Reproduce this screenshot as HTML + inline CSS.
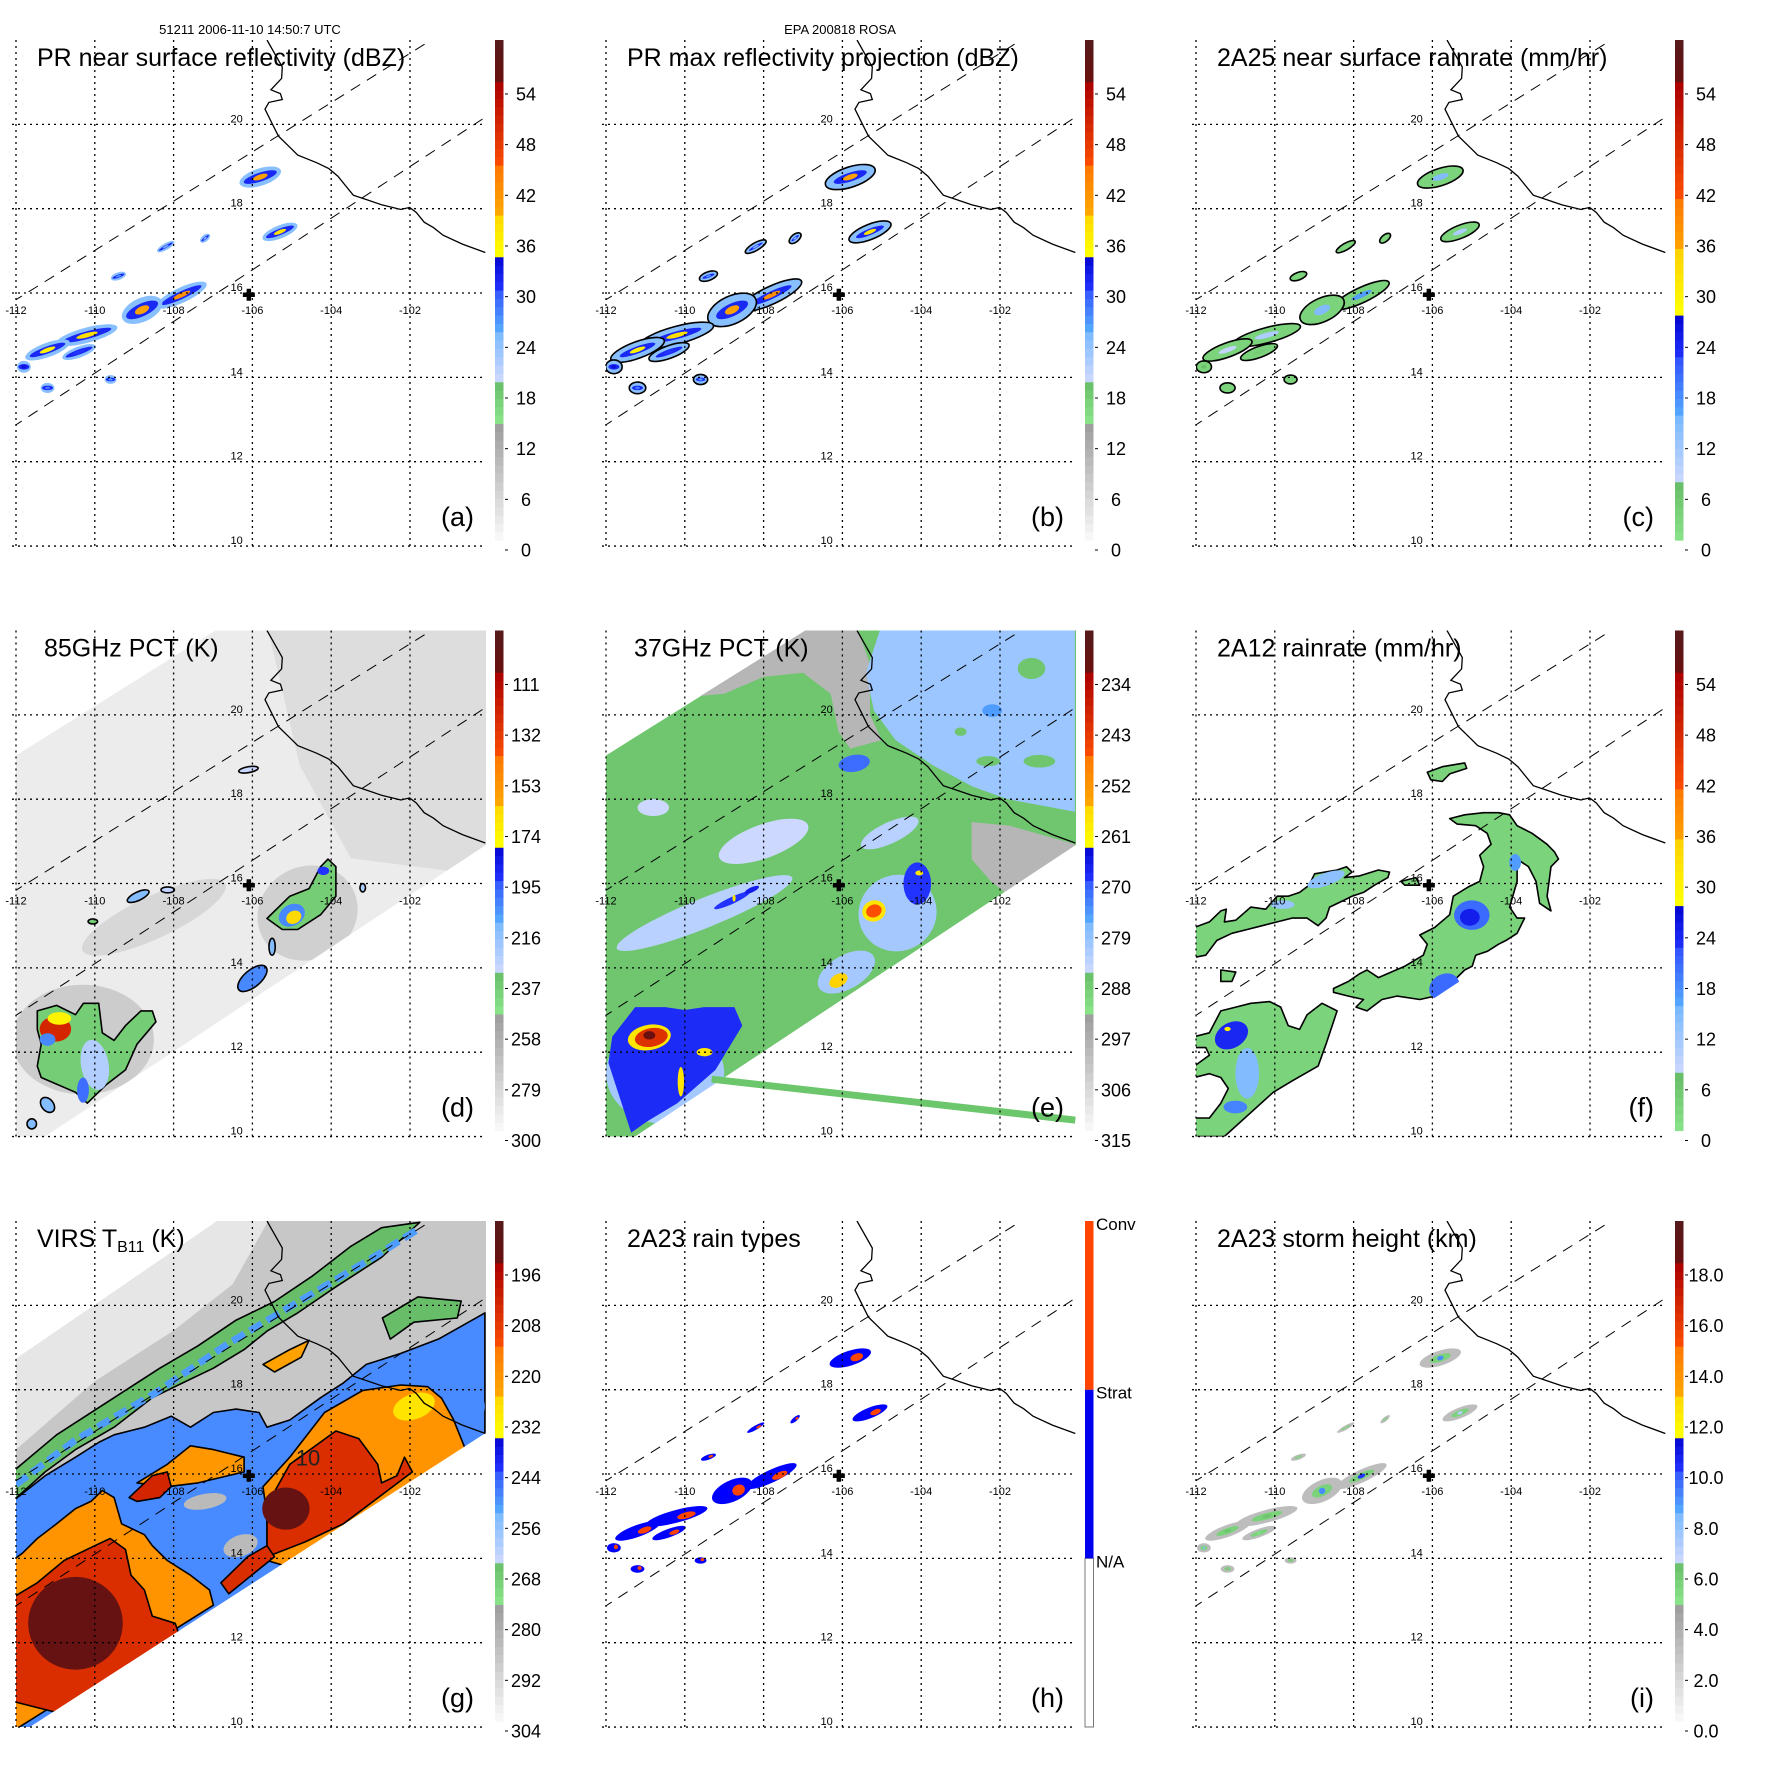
<!DOCTYPE html>
<html><head><meta charset="utf-8"><style>
html,body{margin:0;padding:0;background:#fff;}
svg{display:block;font-family:"Liberation Sans",sans-serif;}
</style></head><body>
<svg id="chart" xmlns="http://www.w3.org/2000/svg" width="1771" height="1771" viewBox="0 0 1771 1771"></svg>
<script>
// ---------- axis ticks / labels ----------
const LAT_TICKS = [10, 12, 14, 16, 18, 20];
const LON_TICKS = [-112, -110, -108, -106, -104, -102];
const PANEL_TITLES = ['PR near surface reflectivity (dBZ)','PR max reflectivity projection (dBZ)','2A25 near surface rainrate (mm/hr)','85GHz PCT (K)','37GHz PCT (K)','2A12 rainrate (mm/hr)','VIRS T','2A23 rain types','2A23 storm height (km)'];
const PANEL_LETTERS = ['(a)','(b)','(c)','(d)','(e)','(f)','(g)','(h)','(i)'];
const CB_LABELS_A = ['0','6','12','18','24','30','36','42','48','54'];
const CB_LABELS_D = ['300','279','258','237','216','195','174','153','132','111'];
const CB_LABELS_E = ['315','306','297','288','279','270','261','252','243','234'];
const CB_LABELS_G = ['304','292','280','268','256','244','232','220','208','196'];
const CB_LABELS_I = ['0.0','2.0','4.0','6.0','8.0','10.0','12.0','14.0','16.0','18.0'];
const CB_LABELS_H = ['N/A','Strat','Conv'];
const CB_VMIN = [0,0,0,300,315,0,304,0,0];
const CB_SPAN = [60,60,60,-210,-90,60,-120,3,20];
const HEADER_LEFT = '51211 2006-11-10 14:50:7 UTC';
const HEADER_MID = 'EPA 200818 ROSA';

// ---------- geography ----------
const COAST_LON = [-105.63,-105.24,-105.26,-105.53,-105.29,-105.24,-105.58,-105.68,-105.51,-105.34,-105.0,-104.85,-104.37,-104.06,-103.83,-103.64,-103.44,-103.15,-102.71,-102.23,-102.01,-101.84,-101.64,-101.40,-101.16,-100.67,-100.09];
const COAST_LAT = [22.0,21.36,21.09,20.82,20.73,20.59,20.52,20.36,20.04,19.72,19.41,19.27,19.09,18.95,18.77,18.55,18.32,18.23,18.09,17.98,18.03,17.91,17.68,17.55,17.37,17.16,16.96];
const SWATH_UP_LON = [-112.09,-101.46], SWATH_UP_LAT = [15.79,22.0];
const SWATH_LO_LON = [-112.09,-100.09], SWATH_LO_LAT = [12.82,20.17];
const SITE_LON = -106.09, SITE_LAT = 15.96;
const TMI_LON = [-112.1,-106.94,-100,-100,-111.26,-112.1], TMI_LAT = [18.98,22,22,16.96,10,10];
const VIRS_LON = [-112.1,-106.89,-100,-100,-111.65,-112.1], VIRS_LAT = [18.67,22,22,17.02,10,10];
const ARTIFACT_LON = [-109.32,-100.09], ARTIFACT_LAT = [11.36,10.39];

// ---------- PR echo cells (a,b,c,h,i) ----------
const CELL_LON = [-105.8,-105.3,-107.8,-108.8,-110.2,-111.2,-111.8,-111.2,-109.4,-110.4,-108.2,-109.6,-107.2];
const CELL_LAT = [18.75,17.45,15.95,15.6,15.0,14.65,14.25,13.75,16.4,14.6,17.1,13.95,17.3];
const CELL_LEN = [1.1,0.95,1.4,1.1,1.6,1.2,0.35,0.35,0.4,0.9,0.5,0.3,0.3];
const CELL_WID = [0.35,0.25,0.3,0.5,0.3,0.28,0.22,0.18,0.12,0.2,0.1,0.15,0.1];
const CELL_ANG = [-18,-22,-25,-25,-15,-20,0,0,-20,-20,-30,0,-40];
const CELL_DBZ = [40,38,42,40,38,36,33,28,26,30,24,26,24];
const CELL_HGT = [9,7,10,9,6,6,8,4,3,5,3,4,3];
const CELL_RAIN = [14,10,16,14,10,8,6,3,2,4,2,3,2];

// ---------- 85 GHz (d) ----------
const D_DARK_LON = [-105.6,-100,-100,-101,-103.5,-104.8], D_DARK_LAT = [22,22,16.9,16.3,16.6,18.8];
const D_S1_LON = [-111.46,-110.97,-110.49,-110.29,-109.9,-109.81,-109.51,-109.22,-108.83,-108.54,-108.45,-108.93,-109.22,-109.71,-110.19,-110.49,-111.36,-111.46,-111.36,-111.46];
const D_S1_LAT = [12.98,13.11,12.89,13.16,13.16,12.46,12.28,12.63,12.98,12.98,12.72,12.19,11.58,11.23,10.79,11.05,11.4,11.67,12.19,12.54];
const D_S2_LON = [-105.63,-105.05,-104.56,-104.27,-104.08,-103.88,-103.88,-104.27,-104.85,-105.24];
const D_S2_LAT = [15.17,15.70,15.88,16.4,16.58,16.4,15.70,15.26,14.91,14.91];
const D_B_LON = [-110.3,-104.6,-108.5,-111.0,-110.9,-111.2,-110.0,-110.3,-105.0,-104.95,-104.2,-106.0,-106.1,-108.9,-108.15,-110.05,-111.2,-111.6,-105.5,-103.2];
const D_B_LAT = [12.3,15.3,15.2,12.55,12.8,12.3,11.7,11.1,15.25,15.2,16.3,13.75,18.7,15.7,15.85,15.1,10.75,10.3,14.5,15.9];
const D_B_RX = [1.8,1.3,2.0,0.4,0.3,0.2,0.35,0.15,0.35,0.2,0.15,0.45,0.25,0.3,0.17,0.12,0.15,0.12,0.08,0.07];
const D_B_RY = [1.3,1.1,0.5,0.3,0.15,0.15,0.6,0.3,0.25,0.15,0.1,0.2,0.07,0.1,0.07,0.06,0.2,0.12,0.2,0.1];
const D_B_ANG = [0,-30,-25,0,0,0,-10,0,-30,-30,0,-40,-10,-25,0,0,-40,0,0,0];
const D_B_VAL = [276,278,282,125,175,205,226,200,205,165,195,205,232,215,230,240,215,215,215,225];

// ---------- 37 GHz (e) ----------
const E_GRAY1_LON = [-109.6,-106.94,-105.6,-105.3,-105.3,-105.0,-105.8,-106.1,-106.3,-107.0,-108.0,-109.0];
const E_GRAY1_LAT = [20.45,22,22,21.2,20.0,19.4,19.2,19.6,20.5,21.0,20.9,20.5];
const E_GRAY2_LON = [-102.72,-101.75,-100.1,-100.1,-101.75,-102.23,-102.72];
const E_GRAY2_LAT = [17.46,17.37,16.93,16.75,15.70,16.05,16.58];
const E_OCEAN_LON = [-105.05,-105.4,-105.2,-104.65,-103.7,-102.7,-101.8,-100.1,-100.1];
const E_OCEAN_LAT = [22,21.0,20.1,19.4,18.8,18.3,18.0,17.7,22];
const E_S1_LON = [-111.84,-111.26,-110.49,-110.0,-109.51,-108.74,-108.54,-109.22,-110.19,-110.97,-111.36,-111.94];
const E_S1_LAT = [12.37,13.07,13.07,13.0,13.07,13.07,12.63,11.58,10.79,10.35,10.09,11.75];
const E_B_LON = [-101.2,-102.3,-101.0,-103.0,-102.2,-109.5,-108.0,-110.8,-104.8,-105.7,-110.5,-104.6,-105.9,-108.8,-108.3,-104.1,-104.05,-110.9,-110.85,-110.9,-109.5,-110.1,-105.2,-105.2,-106.1,-108.75];
const E_B_LAT = [21.1,18.9,18.9,19.6,20.1,15.3,17.0,17.8,17.2,18.85,11.5,15.3,13.9,15.6,15.85,16.0,16.25,12.35,12.35,12.4,12.0,11.3,15.35,15.35,13.7,15.65];
const E_B_RX = [0.35,0.3,0.4,0.15,0.25,2.4,1.2,0.4,0.8,0.4,1.5,1.0,0.8,0.5,0.2,0.35,0.1,0.55,0.42,0.15,0.2,0.08,0.3,0.2,0.25,0.04];
const E_B_RY = [0.25,0.12,0.15,0.1,0.15,0.35,0.4,0.2,0.25,0.2,1.2,0.9,0.4,0.08,0.06,0.5,0.06,0.3,0.22,0.1,0.1,0.35,0.25,0.15,0.15,0.08];
const E_B_ANG = [0,0,0,0,0,-22,-20,0,-25,-10,0,-30,-30,-25,-25,0,0,-10,-10,0,0,0,-20,-20,-30,0];
const E_B_VAL = [288,288,288,288,276,284,286,286,284,272,282,282,282,270,267,270,259,259,242,232,259,259,259,248,256,259];

// ---------- 2A12 (f) ----------
const F1_LON = [-112.04,-111.66,-111.37,-111.23,-111.28,-110.99,-110.61,-110.23,-109.94,-109.66,-109.37,-109.13,-108.99,-108.42,-108.18,-108.04,-108.23,-107.85,-107.37,-107.09,-107.13,-107.47,-107.75,-108.04,-108.23,-108.61,-108.70,-108.90,-109.18,-109.56,-109.94,-110.32,-110.70,-111.09,-111.47,-111.75,-112.04];
const F1_LAT = [14.96,15.09,15.35,15.39,15.09,15.13,15.44,15.39,15.70,15.70,15.79,15.96,16.23,16.32,16.40,16.27,16.14,16.18,16.32,16.27,16.14,15.96,15.79,15.70,15.61,15.44,15.18,15.0,15.18,15.18,15.09,15.0,14.91,14.82,14.65,14.30,14.25];
const F2_LON = [-108.51,-108.13,-107.85,-107.66,-107.37,-106.70,-106.23,-106.13,-106.32,-105.94,-105.56,-105.47,-105.09,-104.80,-104.70,-104.80,-104.51,-104.61,-104.90,-105.37,-105.56,-105.18,-104.70,-104.32,-104.04,-103.85,-103.47,-103.09,-102.90,-102.80,-102.99,-103.09,-102.99,-103.28,-103.37,-103.56,-103.85,-103.85,-104.04,-103.85,-103.66,-103.85,-104.13,-104.32,-104.61,-104.90,-104.99,-105.18,-105.56,-105.94,-106.32,-106.90,-107.28,-107.66,-107.94,-107.75,-108.13,-108.51];
const F2_LAT = [13.51,13.68,13.86,13.95,13.77,14.04,14.30,14.56,14.78,14.96,15.26,15.70,15.92,16.05,16.40,16.67,16.93,17.19,17.37,17.41,17.54,17.63,17.68,17.68,17.63,17.37,17.19,16.93,16.75,16.58,16.40,15.70,15.35,15.53,16.05,16.40,16.58,16.05,15.44,15.18,15.18,14.82,14.65,14.56,14.39,14.30,14.04,13.95,13.60,13.33,13.25,13.33,13.25,12.98,13.07,13.25,13.33,13.42];
const F3_LON = [-112.04,-111.66,-111.37,-110.99,-110.61,-110.13,-109.85,-109.66,-109.37,-109.18,-108.80,-108.42,-108.70,-108.90,-109.56,-110.04,-111.28,-112.04,-112.04,-111.66,-111.37,-111.18,-111.37,-111.66,-112.04,-112.04,-111.66,-111.75,-112.04];
const F3_LAT = [12.37,12.46,12.98,13.07,13.16,13.20,13.07,12.63,12.54,12.89,13.16,12.98,12.19,11.67,11.32,11.05,10.0,10,10.44,10.44,10.79,11.14,11.40,11.49,11.40,11.67,11.93,12.11,12.11];
const F4_LON = [-106.13,-105.75,-105.18,-105.13,-105.56,-105.75,-106.04], F4_LAT = [18.64,18.77,18.86,18.73,18.60,18.42,18.46];
const F5_LON = [-106.80,-106.42,-106.32,-106.70], F5_LAT = [16.05,16.14,15.96,15.96];
const F6_LON = [-111.37,-110.99,-111.09,-111.37], F6_LAT = [13.95,13.90,13.68,13.68];
const F_B_LON = [-105.0,-105.05,-105.7,-111.1,-111.2,-110.7,-111.0,-103.9,-108.7,-109.8];
const F_B_LAT = [15.25,15.2,13.55,12.4,12.55,11.5,10.7,16.5,16.1,15.5];
const F_B_RX = [0.45,0.25,0.4,0.45,0.08,0.3,0.3,0.15,0.5,0.3];
const F_B_RY = [0.35,0.2,0.3,0.3,0.05,0.6,0.15,0.2,0.15,0.1];
const F_B_ANG = [0,0,-30,-30,0,0,0,0,-20,0];
const F_B_VAL = [20,24,20,23,30,14,18,16,13,12];

// ---------- VIRS (g) ----------
const G_LIGHT_LON = [-112.1,-106.89,-105.6,-106.5,-108,-110,-112.1], G_LIGHT_LAT = [18.67,22,22,20.5,19.4,18.2,16.5];
const G_BAND_LON = [-112.09,-110.97,-109.51,-108.35,-107.38,-106.41,-105.44,-104.47,-103.50,-102.72,-101.75,-102.72,-103.88,-104.85,-105.63,-106.21,-106.99,-107.77,-108.54,-109.51,-110.49,-111.26,-112.09];
const G_BAND_LAT = [16.05,16.93,17.81,18.51,19.04,19.65,20.09,20.70,21.40,21.84,21.97,21.14,20.44,19.82,19.39,18.95,18.51,18.16,17.81,17.11,16.58,16.05,15.35];
const G_BLUE_LON = [-112.09,-111.26,-110.49,-109.90,-109.51,-108.74,-108.06,-107.57,-106.99,-106.41,-105.83,-105.63,-105.05,-104.27,-103.69,-103.11,-102.23,-101.26,-100.1,-100.1,-112.1];
const G_BLUE_LAT = [15.35,15.96,16.40,16.75,16.93,17.11,17.37,17.11,17.46,17.54,17.46,17.11,17.28,17.81,18.16,18.60,18.86,19.21,19.82,9.0,9.0];
const G_O1_LON = [-112.09,-111.84,-111.46,-110.97,-110.49,-110.10,-109.81,-109.51,-109.32,-108.74,-108.54,-108.16,-107.57,-107.09,-106.99,-112.09];
const G_O1_LAT = [13.95,14.12,14.47,14.82,15.18,15.35,15.61,15.44,14.82,14.56,14.30,13.95,13.60,13.25,12.89,9.9];
const G_O2_LON = [-105.73,-105.05,-104.17,-103.20,-102.23,-101.55,-101.2,-100.9,-100.6,-102.0,-104.0,-105.63,-105.63];
const G_O2_LAT = [15.70,16.40,17.46,17.98,18.11,18.07,17.8,17.3,16.6,14.8,13.5,13.95,15.0];
const G_R1_LON = [-112.09,-111.46,-110.78,-110.0,-109.61,-109.22,-109.08,-108.74,-108.54,-107.96,-107.86,-109.51,-112.09];
const G_R1_LAT = [13.07,13.42,13.95,14.30,14.47,14.21,13.60,13.25,12.63,12.46,12.19,10,10.61];
const G_R2_LON = [-105.63,-105.05,-103.88,-103.30,-102.82,-102.72,-102.33,-102.14,-101.94,-103.69,-104.66,-105.63];
const G_R2_LAT = [15.26,16.23,17.02,16.84,16.23,15.79,15.96,16.40,16.05,14.82,14.39,14.04];
const G_R3_LON = [-109.13,-108.54,-108.16,-108.06,-108.35,-108.93], G_R3_LAT = [15.44,15.96,16.05,15.70,15.44,15.35];
const G_O3_LON = [-108.93,-108.16,-107.57,-106.99,-106.21,-106.21,-107.38,-108.16], G_O3_LAT = [15.79,16.23,16.67,16.58,16.40,16.05,15.79,15.70];
const G_O4_LON = [-105.73,-105.05,-104.56,-104.76,-105.44], G_O4_LAT = [18.60,18.95,19.17,18.77,18.42];
const G_R4_LON = [-106.80,-106.12,-105.63,-105.44,-106.60], G_R4_LAT = [13.42,14.04,14.30,14.04,13.16];
const G_GR_LON = [-102.7,-101.8,-100.7,-100.8,-101.9,-102.5], G_GR_LAT = [19.7,20.2,20.1,19.7,19.6,19.2];
const G_B_LON = [-110.49,-105.15,-106.3,-107.2,-101.9,-100.5];
const G_B_LAT = [12.46,15.18,14.3,15.35,17.6,17.6];
const G_B_RX = [1.2,0.6,0.45,0.55,0.55,0.4];
const G_B_RY = [1.1,0.5,0.25,0.18,0.3,0.4];
const G_B_ANG = [0,0,-20,-10,-20,0];
const G_B_VAL = [192,192,285,285,229,250];

// ---------- layout ----------
const NS = 'http://www.w3.org/2000/svg';
const svg = document.getElementById('chart');
const KX = 39.4, KY = 42.17, PW = 470, PH = 506, CBH = 500;
function OX(i){ return 16 + 590 * (i % 3); }
function OY(i){ return 40 + 590.5 * Math.floor(i / 3); }
function px(i, lon){ return OX(i) + (lon + 112) * KX; }
function py(i, lat){ return OY(i) + (22 - lat) * KY; }
function mk(tag, attrs, parent){
  const e = document.createElementNS(NS, tag);
  for (const k in attrs) e.setAttribute(k, attrs[k]);
  (parent || svg).appendChild(e);
  return e;
}
function hex(c){ return [parseInt(c.substr(1,2),16),parseInt(c.substr(3,2),16),parseInt(c.substr(5,2),16)]; }
const STD = [[0,.237,'#fafafa','#9a9a9a'],[.237,.322,'#8ae48a','#66bb66'],[.322,.42,'#ccd8ff','#77b8ff'],[.42,.5,'#55aaff','#3355ff'],[.5,.575,'#2233ff','#0000cc'],[.575,.658,'#ffff00','#ffd200'],[.658,.743,'#ffa500','#ff7a00'],[.743,.917,'#ff5000','#aa0000'],[.917,1.001,'#6a1010','#551a1a']];
const RAIN = [[0,.118,'#8ae48a','#66bb66'],[.118,.25,'#ccd8ff','#77b8ff'],[.25,.36,'#55aaff','#3355ff'],[.36,.458,'#2233ff','#0000cc'],[.458,.577,'#ffff00','#ffd200'],[.577,.677,'#ffa500','#ff7a00'],[.677,.915,'#ff5000','#aa0000'],[.915,1.001,'#6a1010','#551a1a']];
function fracColor(f, sch){
  f = Math.max(0, Math.min(1, f));
  for (const s of sch){
    if (f >= s[0] && f < s[1]){
      const t = (f - s[0]) / (s[1] - s[0]); const a = hex(s[2]), b = hex(s[3]);
      return 'rgb(' + a.map((v,k)=>Math.round(v + (b[k]-v)*t)).join(',') + ')';
    }
  }
  return sch[sch.length-1][3];
}
function valColor(i, v){ return fracColor((v - CB_VMIN[i]) / CB_SPAN[i], (i === 2 || i === 5) ? RAIN : STD); }
function polyPts(i, lons, lats){ return lons.map((l,k)=>px(i,l).toFixed(1)+','+py(i,lats[k]).toFixed(1)).join(' '); }
function drawPoly(i, g, lons, lats, fill, stroke, name){
  const e = mk('polygon', {points: polyPts(i, lons, lats), fill: fill, stroke: stroke || 'none', 'stroke-width': 1.6, 'stroke-linejoin': 'round'}, g);
  
  
  return e;
}
function drawBlob(i, g, lon, lat, rxd, ryd, ang, fill, stroke, name){
  const cx = px(i, lon), cy = py(i, lat);
  const e = mk('ellipse', {cx: cx, cy: cy, rx: rxd * KX, ry: ryd * KY, fill: fill, stroke: stroke || 'none', 'stroke-width': 1.6, transform: 'rotate(' + ang + ' ' + cx + ' ' + cy + ')'}, g);
  
  
  return e;
}
function blobSet(i, g, L, A, RX, RY, AN, V, name, stroke){
  for (let k = 0; k < L.length; k++) drawBlob(i, g, L[k], A[k], RX[k], RY[k], AN[k], valColor(i, V[k]), stroke, name);
}

const defs = mk('defs', {});
for (let i = 0; i < 9; i++){
  const cp = mk('clipPath', {id: 'clip' + i}, defs);
  mk('rect', {x: OX(i), y: OY(i), width: PW, height: PH}, cp);
}

const h1 = mk('text', {x: 250, y: 34, 'font-size': 13, 'text-anchor': 'middle', fill: '#000'});
h1.textContent = HEADER_LEFT;


const h2 = mk('text', {x: 840, y: 34, 'font-size': 13, 'text-anchor': 'middle', fill: '#000'});
h2.textContent = HEADER_MID;



function drawCells(i, g, mode){
  for (let k = 0; k < CELL_LON.length; k++){
    const L = CELL_LON[k], A = CELL_LAT[k], R = CELL_LEN[k]/2, W = CELL_WID[k]/2, AN = CELL_ANG[k];
    if (mode === 'a' || mode === 'b'){
      const s = mode === 'b' ? 1.2 : 1;
      drawBlob(i, g, L, A, R*s, W*s+0.03, AN, valColor(i, 24), mode === 'b' ? '#000' : 'none', 'echo-cell-outer');
      drawBlob(i, g, L, A, R*0.8, W*0.6, AN, valColor(i, 31), null, 'echo-cell-mid');
      drawBlob(i, g, L, A, R*0.35, W*0.35, AN, valColor(i, CELL_DBZ[k]), null, 'echo-cell-core');
    } else if (mode === 'c'){
      drawBlob(i, g, L, A, R*1.1, W+0.03, AN, valColor(i, 3), '#000', 'rain-cell');
      drawBlob(i, g, L, A, R*0.4, W*0.4, AN, valColor(i, CELL_RAIN[k]), null, 'rain-cell-core');
    } else if (mode === 'h'){
      drawBlob(i, g, L, A, R, W, AN, '#0000ff', null, 'stratiform-cell');
      drawBlob(i, g, L + R*0.3, A + 0.02, R*0.3, W*0.5, AN, '#ff4400', null, 'convective-cell');
    } else {
      drawBlob(i, g, L, A, R, W, AN, valColor(i, 3), null, 'storm-height-cell');
      drawBlob(i, g, L, A, R*0.5, W*0.5, AN, valColor(i, 5.5), null, 'storm-height-core');
      drawBlob(i, g, L, A, R*0.15, W*0.3, AN, valColor(i, CELL_HGT[k]), null, 'storm-height-peak');
    }
  }
}

for (let i = 0; i < 9; i++){
  const ox = OX(i), oy = OY(i);
  const pg = mk('g', {});
  
  
  const dg = mk('g', {'clip-path': 'url(#clip' + i + ')'}, pg);
  
  

  if (i === 0) drawCells(i, dg, 'a');
  if (i === 1) drawCells(i, dg, 'b');
  if (i === 2) drawCells(i, dg, 'c');
  if (i === 7) drawCells(i, dg, 'h');
  if (i === 8) drawCells(i, dg, 'i');
  if (i === 3){
    drawPoly(i, dg, TMI_LON, TMI_LAT, valColor(i, 293), null, 'tmi-swath');
    drawPoly(i, dg, D_DARK_LON, D_DARK_LAT, valColor(i, 285), null, 'land-darker-region');
    const sw = mk('polyline', {points: polyPts(i, ARTIFACT_LON, ARTIFACT_LAT), stroke: '#dddddd', 'stroke-width': 5, fill: 'none'}, dg);
    
    
    blobSet(i, dg, D_B_LON.slice(0,3), D_B_LAT.slice(0,3), D_B_RX.slice(0,3), D_B_RY.slice(0,3), D_B_ANG.slice(0,3), D_B_VAL.slice(0,3), 'cold-shadow');
    drawPoly(i, dg, D_S1_LON, D_S1_LAT, valColor(i, 240), '#000', 'storm-southwest');
    drawPoly(i, dg, D_S2_LON, D_S2_LAT, valColor(i, 240), '#000', 'storm-central');
    blobSet(i, dg, D_B_LON.slice(3,11), D_B_LAT.slice(3,11), D_B_RX.slice(3,11), D_B_RY.slice(3,11), D_B_ANG.slice(3,11), D_B_VAL.slice(3,11), 'ice-scattering-core');
    blobSet(i, dg, D_B_LON.slice(11), D_B_LAT.slice(11), D_B_RX.slice(11), D_B_RY.slice(11), D_B_ANG.slice(11), D_B_VAL.slice(11), 'small-cell', '#000');
    drawPoly(i, dg, [-100,-111.26,-100], [16.96,10,10], '#fff', null, 'outside-swath');
  }
  if (i === 4){
    drawPoly(i, dg, TMI_LON, TMI_LAT, valColor(i, 288), null, 'tmi-swath');
    drawPoly(i, dg, E_GRAY1_LON, E_GRAY1_LAT, valColor(i, 300), null, 'warm-land-region');
    drawPoly(i, dg, E_GRAY2_LON, E_GRAY2_LAT, valColor(i, 300), null, 'warm-land-region');
    drawPoly(i, dg, E_OCEAN_LON, E_OCEAN_LAT, valColor(i, 281), null, 'gulf-region');
    blobSet(i, dg, E_B_LON.slice(0,17), E_B_LAT.slice(0,17), E_B_RX.slice(0,17), E_B_RY.slice(0,17), E_B_ANG.slice(0,17), E_B_VAL.slice(0,17), 'pct-anomaly');
    drawPoly(i, dg, E_S1_LON, E_S1_LAT, valColor(i, 269), null, 'storm-southwest');
    blobSet(i, dg, E_B_LON.slice(17), E_B_LAT.slice(17), E_B_RX.slice(17), E_B_RY.slice(17), E_B_ANG.slice(17), E_B_VAL.slice(17), 'pct-core');
    drawPoly(i, dg, [-100,-111.26,-100], [16.96,10,10], '#fff', null, 'outside-swath');
    const sw = mk('polyline', {points: polyPts(i, ARTIFACT_LON, ARTIFACT_LAT), stroke: '#6cc66c', 'stroke-width': 7, fill: 'none'}, dg);
    
    
  }
  if (i === 5){
    const fl = [[F1_LON,F1_LAT],[F2_LON,F2_LAT],[F3_LON,F3_LAT],[F4_LON,F4_LAT],[F5_LON,F5_LAT],[F6_LON,F6_LAT]];
    for (const p of fl) drawPoly(i, dg, p[0], p[1], valColor(i, 3), '#000', 'rain-area');
    blobSet(i, dg, F_B_LON, F_B_LAT, F_B_RX, F_B_RY, F_B_ANG, F_B_VAL, 'rain-core');
    drawPoly(i, dg, [-100,-111.26,-100], [16.96,10,10], '#fff', null, 'outside-swath');
  }
  if (i === 6){
    drawPoly(i, dg, VIRS_LON, VIRS_LAT, valColor(i, 289), null, 'virs-swath');
    drawPoly(i, dg, G_LIGHT_LON, G_LIGHT_LAT, valColor(i, 298), null, 'clear-sky-region');
    drawPoly(i, dg, G_BLUE_LON, G_BLUE_LAT, valColor(i, 250), '#000', 'cold-cloud-region');
    drawPoly(i, dg, G_BAND_LON, G_BAND_LAT, valColor(i, 266), '#000', 'cloud-band');
    const bl = mk('polyline', {points: polyPts(i, [-112,-110.5,-108.5,-106.6,-104.8,-103,-101.8], [15.75,16.8,17.9,19.1,20.1,21.1,21.8]), stroke: valColor(i, 252), 'stroke-width': 7, 'stroke-dasharray': '14 6', fill: 'none'}, dg);
    
    
    drawPoly(i, dg, G_GR_LON, G_GR_LAT, valColor(i, 266), '#000', 'cloud-patch');
    drawPoly(i, dg, G_O1_LON, G_O1_LAT, valColor(i, 221), '#000', 'anvil-southwest');
    drawPoly(i, dg, G_O2_LON, G_O2_LAT, valColor(i, 221), '#000', 'anvil-east');
    drawPoly(i, dg, G_O3_LON, G_O3_LAT, valColor(i, 222), '#000', 'anvil-central');
    drawPoly(i, dg, G_O4_LON, G_O4_LAT, valColor(i, 224), '#000', 'anvil-north');
    drawPoly(i, dg, G_R1_LON, G_R1_LAT, valColor(i, 206), '#000', 'cold-top-southwest');
    drawPoly(i, dg, G_R2_LON, G_R2_LAT, valColor(i, 206), '#000', 'cold-top-east');
    drawPoly(i, dg, G_R3_LON, G_R3_LAT, valColor(i, 204), '#000', 'cold-top-central');
    drawPoly(i, dg, G_R4_LON, G_R4_LAT, valColor(i, 206), '#000', 'cold-top-south');
    blobSet(i, dg, G_B_LON, G_B_LAT, G_B_RX, G_B_RY, G_B_ANG, G_B_VAL, 'tb-feature');
    drawPoly(i, dg, [-100,-111.65,-100], [17.02,10,10], '#fff', null, 'outside-swath');
    const t10 = mk('text', {x: px(i, -104.9), y: py(i, 16.2), 'font-size': 22, fill: '#222'}, dg);
    t10.textContent = '10';
    
    
  }

  for (const lat of LAT_TICKS){
    const y = py(i, lat);
    const l = mk('line', {x1: ox - 4, x2: ox + PW, y1: y, y2: y, stroke: '#000', 'stroke-width': 1.3, 'stroke-dasharray': '2 4'}, pg);
    
    
    const t = mk('text', {x: px(i, -106.4), y: y - 2, 'font-size': 11, 'text-anchor': 'middle', fill: '#000'}, pg);
    t.textContent = String(lat);
    
    
  }
  for (const lon of LON_TICKS){
    const x = px(i, lon);
    const l = mk('line', {x1: x, x2: x, y1: oy, y2: oy + PH + 3, stroke: '#000', 'stroke-width': 1.3, 'stroke-dasharray': '2 4'}, pg);
    
    
    const t = mk('text', {x: x, y: py(i, 16) + 21, 'font-size': 11, 'text-anchor': 'middle', fill: '#000'}, pg);
    t.textContent = String(lon);
    
    
  }
  const cg = mk('g', {'clip-path': 'url(#clip' + i + ')'}, pg);
  for (const sl of [[SWATH_UP_LON, SWATH_UP_LAT, 'pr-swath-north-edge'], [SWATH_LO_LON, SWATH_LO_LAT, 'pr-swath-south-edge']]){
    const l = mk('polyline', {points: polyPts(i, sl[0], sl[1]), stroke: '#000', 'stroke-width': 1, 'stroke-dasharray': '11 8', fill: 'none'}, cg);
    
    
  }
  const coast = mk('polyline', {points: polyPts(i, COAST_LON, COAST_LAT), stroke: '#000', 'stroke-width': 1.3, fill: 'none'}, cg);
  
  
  const sx = px(i, SITE_LON), sy = py(i, SITE_LAT);
  const cross = mk('path', {d: 'M' + (sx-6) + ' ' + sy + 'H' + (sx+6) + 'M' + sx + ' ' + (sy-6) + 'V' + (sy+6), stroke: '#000', 'stroke-width': 4.5}, pg);
  
  

  const tx = (i === 3 || i === 4) ? ox + 28 : ox + 21;
  const title = mk('text', {x: tx, y: oy + 26, 'font-size': 25, fill: '#000'}, pg);
  title.textContent = PANEL_TITLES[i];
  if (i === 6){
    const sub = mk('tspan', {'font-size': 16, dy: 5}, title);
    sub.textContent = 'B11';
    const rest = mk('tspan', {dy: -5}, title);
    rest.textContent = ' (K)';
  }
  
  
  const letter = mk('text', {x: ox + 458, y: oy + 486, 'font-size': 27, 'text-anchor': 'end', fill: '#000'}, pg);
  letter.textContent = PANEL_LETTERS[i];
  
  

  const cb = mk('g', {}, pg);
  
  
  const cx = ox + 479, cw = 8.5;
  if (i === 7){
    const fr = mk('rect', {x: cx, y: oy + PH*2/3, width: cw, height: PH/3, fill: '#fff', stroke: '#777', 'stroke-width': 1}, cb);
    
    
    const sb = mk('rect', {x: cx, y: oy + PH/3, width: cw, height: PH/3, fill: '#0000ee'}, cb);
    
    
    const cvb = mk('rect', {x: cx, y: oy, width: cw, height: PH/3, fill: '#ff4400'}, cb);
    
    
    for (let k = 0; k < 3; k++){
      const t = mk('text', {x: cx + 11, y: oy + PH*(1 - (k+1)/3) + 9, 'font-size': 17, fill: '#000'}, cb);
      t.textContent = CB_LABELS_H[k];
      
      
    }
  } else {
    const sch = (i === 2 || i === 5) ? RAIN : STD;
    const N = 60;
    for (let k = 0; k < N; k++){
      const r = mk('rect', {x: cx, y: oy + CBH - (k+1)*CBH/N, width: cw, height: CBH/N + 0.6, fill: fracColor((k+0.5)/N, sch)}, cb);
      
      
    }
    const labs = [CB_LABELS_A,CB_LABELS_A,CB_LABELS_A,CB_LABELS_D,CB_LABELS_E,CB_LABELS_A,CB_LABELS_G,null,CB_LABELS_I][i];
    for (let k = 0; k < labs.length; k++){
      const yc = oy + 510 - k*50.67;
      const tk = mk('line', {x1: cx + 10, x2: cx + 13, y1: yc, y2: yc, stroke: '#000', 'stroke-width': 1}, cb);
      
      
      const t = mk('text', {x: ox + 510, y: yc + 6.5, 'font-size': 18, 'text-anchor': 'middle', fill: '#000'}, cb);
      t.textContent = labs[k];
      
      
    }
  }
}
</script>
</body></html>
